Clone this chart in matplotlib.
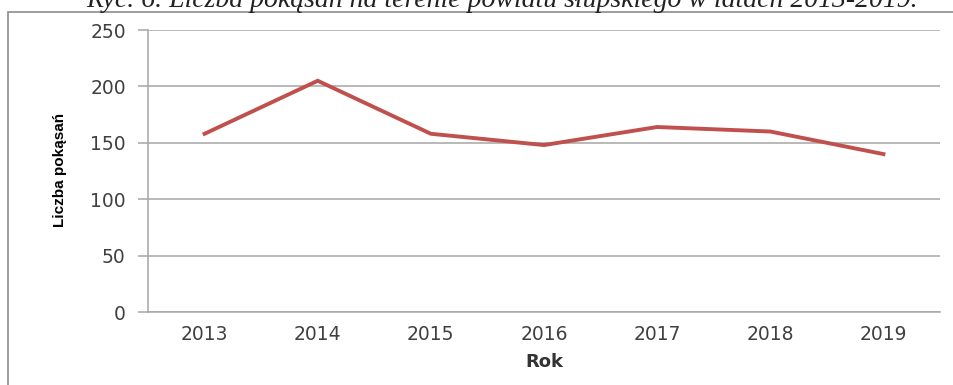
import matplotlib.pyplot as plt
from matplotlib.patches import Rectangle

# Liczba pokąsań w powiecie słupskim
lata = ['2013', '2014', '2015', '2016', '2017', '2018', '2019']
pokasania = [158, 205, 158, 148, 164, 160, 140]
y_ticks = [0, 50, 100, 150, 200, 250]

fig = plt.figure(figsize=(9.54, 3.85), dpi=100)
ax = fig.add_axes([148/954, 73/385, 792/954, 282/385])

# ramka wokół wykresu
fig.patches.append(Rectangle((8/954, -0.1), 1.2, 1.1 - 12/385,
                             transform=fig.transFigure, fill=False,
                             edgecolor='#8c8c8c', lw=1.2))

x = range(len(lata))
ax.plot(x, pokasania, color='#c0504d', lw=2.8, solid_joinstyle='miter')

ax.set_xlim(-0.5, len(lata) - 0.5)
ax.set_ylim(0, 250)
ax.set_yticks(y_ticks)
ax.set_xticks(list(x))
ax.set_xticklabels(lata)

ax.grid(axis='y', color='#a6a6a6', lw=1.1)
ax.set_axisbelow(True)
for s in ['top', 'right']:
    ax.spines[s].set_visible(False)
ax.spines['left'].set_color('#a6a6a6')
ax.spines['bottom'].set_color('#a6a6a6')
ax.spines['left'].set_linewidth(1.1)
ax.spines['bottom'].set_linewidth(1.1)

ax.tick_params(axis='y', length=7, color='#a6a6a6', width=1.1,
               labelsize=13.5, labelcolor='#404040', pad=9)
ax.tick_params(axis='x', length=0, labelsize=13.5, labelcolor='#404040', pad=9)
for lbl in ax.get_xticklabels() + ax.get_yticklabels():
    lbl.set_family('DejaVu Sans')

ax.set_xlabel('Rok', fontsize=13, fontweight='bold', color='#333333',
              family='DejaVu Sans', labelpad=7)
fig.text(60/954, 1 - 170/385, 'Liczba pokąsań', rotation=90,
         ha='center', va='center', fontsize=11, fontweight='bold',
         family=['Liberation Sans Narrow', 'Liberation Sans'], color='black')

fig.text(0.526, 1 - 7/385,
         'Ryc. 6. Liczba pokąsań na terenie powiatu słupskiego w latach 2013-2019.',
         ha='center', va='baseline', fontsize=20, style='italic',
         family='Liberation Serif', color='#222222')

fig.savefig('out.png', dpi=100)
